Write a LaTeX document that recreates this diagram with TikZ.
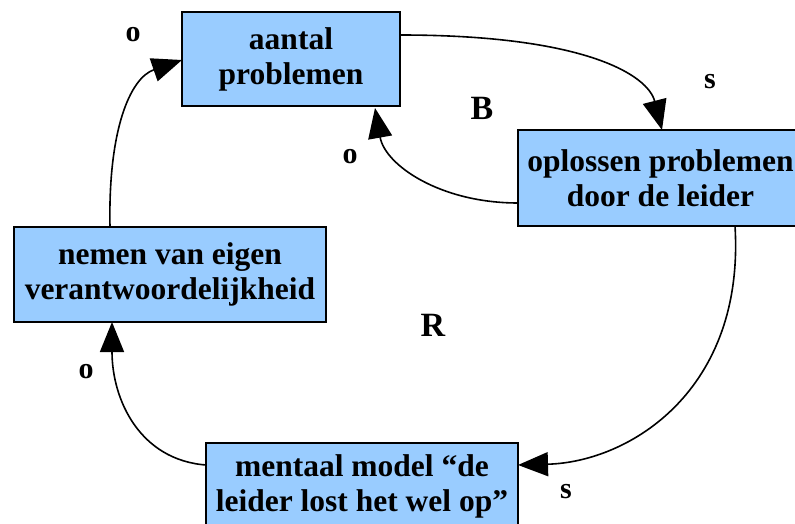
\documentclass[tikz,border=0pt]{standalone}
\usepackage{fontspec}
\setmainfont{Liberation Serif}
\usetikzlibrary{arrows.meta}
\begin{document}
\begin{tikzpicture}[x=1pt,y=-1pt,
  box/.style={draw=black,line width=1.6pt,fill={rgb,255:red,153;green,204;blue,255},
    inner sep=0pt,align=center,
    font=\fontsize{31.5}{35}\selectfont\bfseries},
  conn/.style={line width=1.6pt,-{Triangle[length=30pt,width=24pt]}},
  lbl/.style={font=\fontsize{30}{32}\selectfont\bfseries,inner sep=0pt},
  big/.style={font=\fontsize{34}{36}\selectfont\bfseries,inner sep=0pt}]
\useasboundingbox (0,0) rectangle (795,524);
\node[box,minimum width=218pt,minimum height=94pt] (aantal) at (291,59) {aantal\\problemen};
\node[box,minimum width=285pt,minimum height=96pt] (oplossen) at (660.5,178) {oplossen problemen\\door de leider};
\node[box,minimum width=312pt,minimum height=95pt] (nemen) at (170,274.5) {nemen van eigen\\verantwoordelijkheid};
\node[box,minimum width=312pt,minimum height=86pt] (mentaal) at (362,486) {mentaal model “de\\leider lost het wel op”};
\coordinate (a1) at (400,35);
\coordinate (o1) at (662,130);
\coordinate (o2) at (518,203);
\coordinate (a2) at (375,108);
\coordinate (o3) at (735,226);
\coordinate (m1) at (518,465);
\coordinate (m2) at (206,465);
\coordinate (n1) at (112,322);
\coordinate (n2) at (110,227);
\coordinate (a3) at (182,60);
\draw[conn] (a1) .. controls (585,35) and (648,75) .. (o1);
\draw[conn] (o2) .. controls (440,203) and (385,165) .. (a2);
\draw[conn] (o3) .. controls (745,390) and (630,462) .. (m1);
\draw[conn] (m2) .. controls (140,460) and (112,400) .. (n1);
\draw[conn] (n2) .. controls (108,130) and (130,78) .. (a3);
\node[lbl] (l1) at (133,35) {o};
\node[lbl] (l2) at (710,82) {s};
\node[big] (lB) at (482,108) {B};
\node[lbl] (l3) at (350,157) {o};
\node[big] (lR) at (433,325) {R};
\node[lbl] (l4) at (86,372) {o};
\node[lbl] (l5) at (566,492) {s};
\end{tikzpicture}
\end{document}
